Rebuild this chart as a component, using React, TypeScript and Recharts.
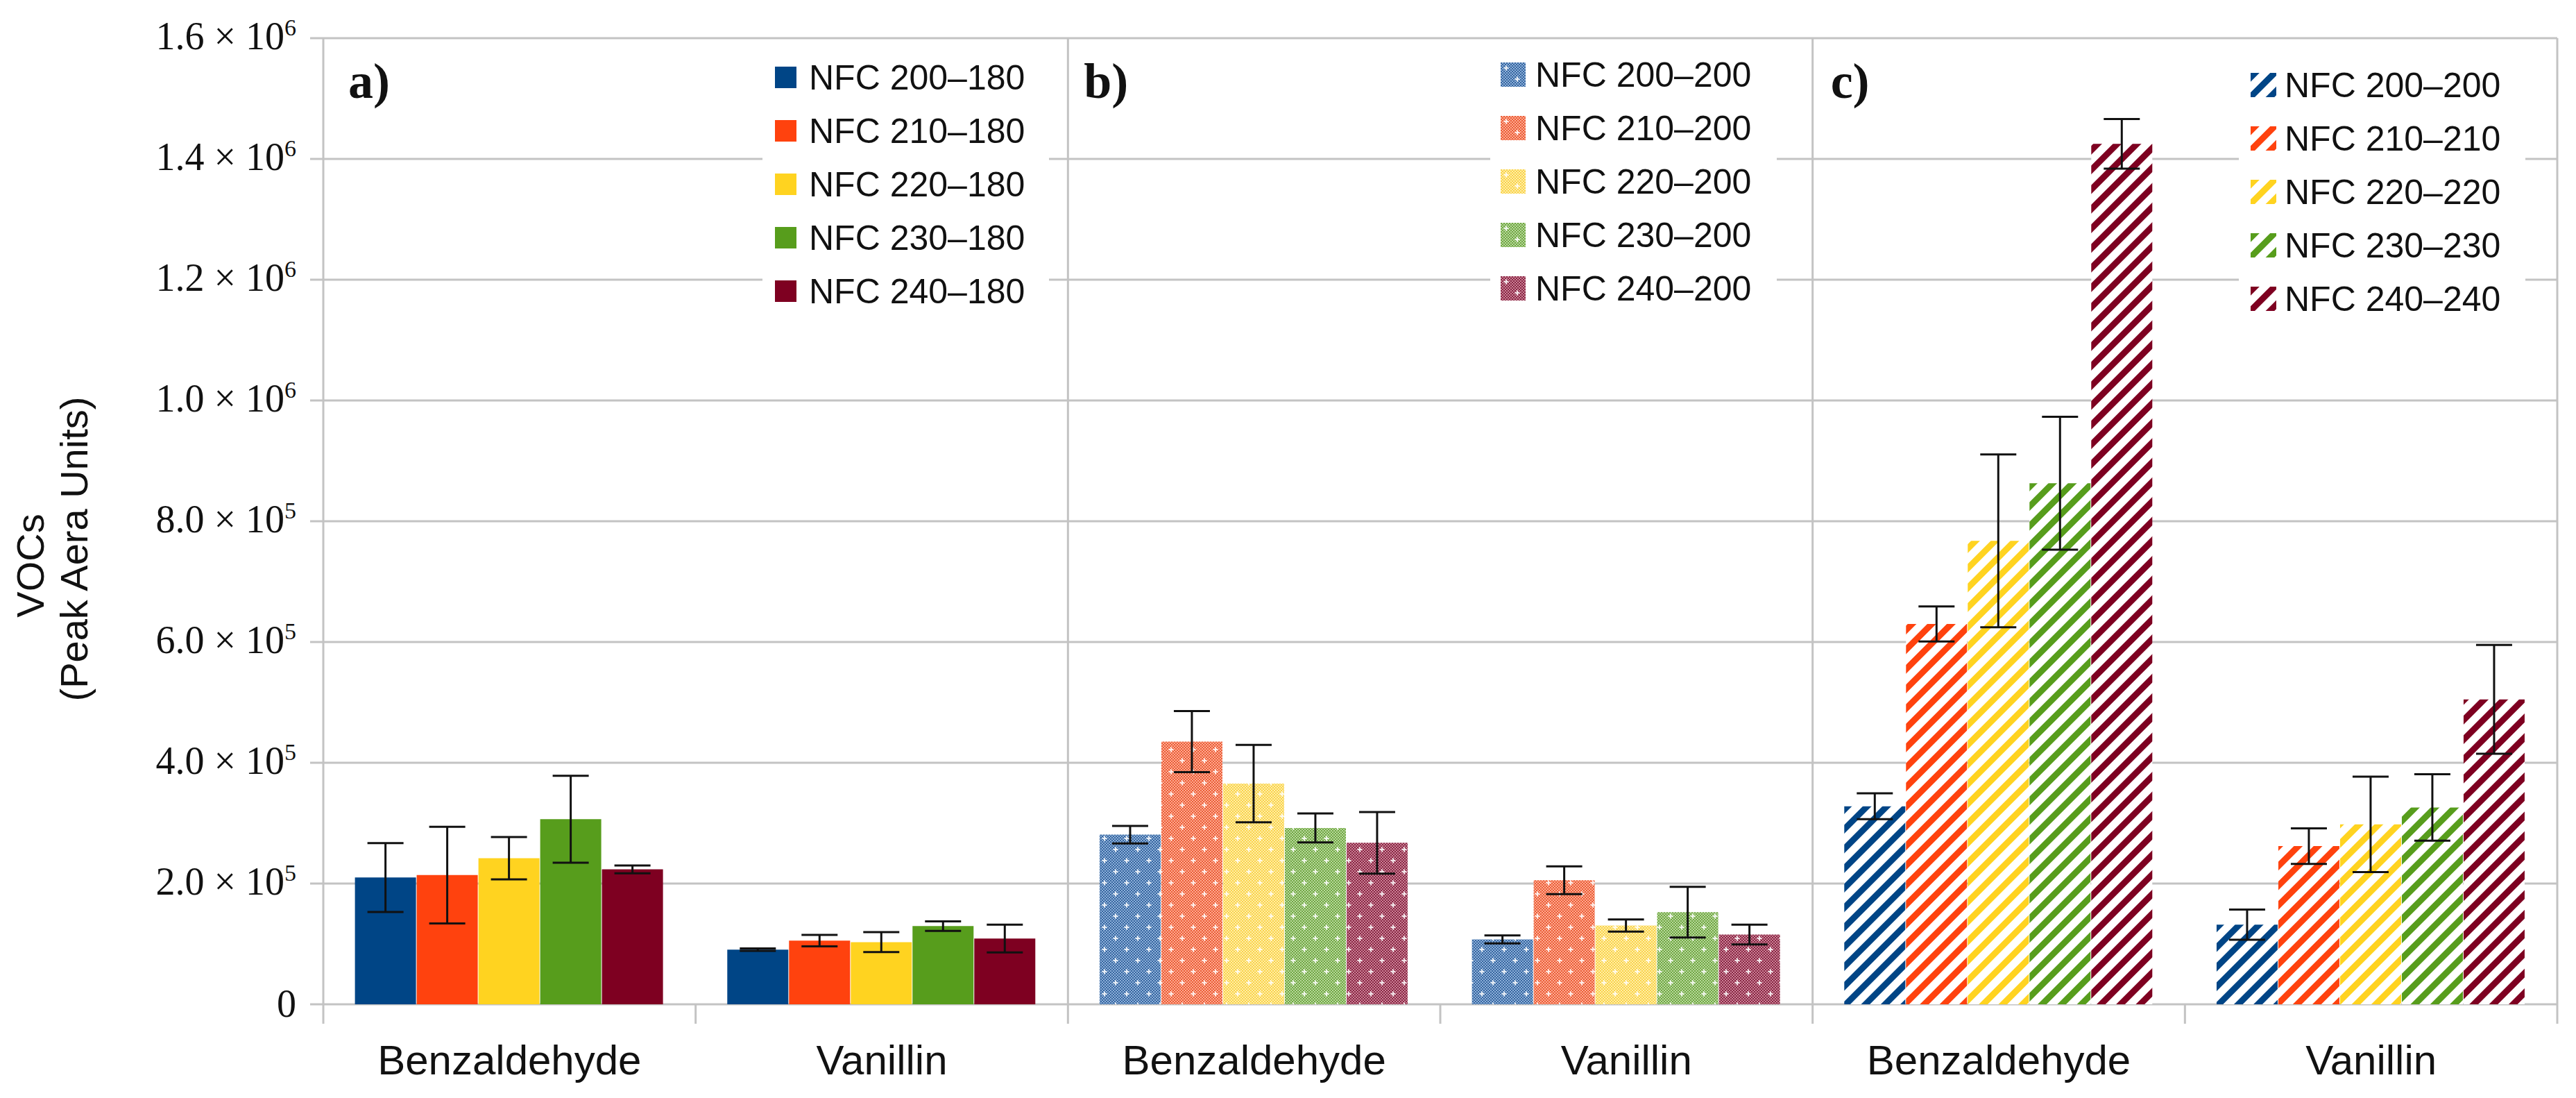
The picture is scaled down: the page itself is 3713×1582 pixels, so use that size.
import React from "react";
import {
  BarChart,
  Bar,
  XAxis,
  YAxis,
  CartesianGrid,
  ErrorBar,
  Cell,
  ReferenceLine,
  Legend,
} from "recharts";

// categories along x (three panels, two compounds each)
const categories = [
  "Benzaldehyde",
  "Vanillin",
  "Benzaldehyde",
  "Vanillin",
  "Benzaldehyde",
  "Vanillin",
];
const panelNames = ["a)", "b)", "c)"];

// legend labels per panel
const legendA = ["NFC 200–180", "NFC 210–180", "NFC 220–180", "NFC 230–180", "NFC 240–180"];
const legendB = ["NFC 200–200", "NFC 210–200", "NFC 220–200", "NFC 230–200", "NFC 240–200"];
const legendC = ["NFC 200–200", "NFC 210–210", "NFC 220–220", "NFC 230–230", "NFC 240–240"];

// bar heights (peak area units), one value per category
const nfc200 = [210000, 90500, 281000, 107500, 328000, 132000];
const nfc210 = [214000, 105500, 435000, 205500, 630000, 262000];
const nfc220 = [242000, 103000, 365500, 130500, 767500, 298000];
const nfc230 = [306500, 129500, 292000, 152500, 863000, 326000];
const nfc240 = [223500, 109000, 267500, 115500, 1425000, 505000];

// error bar half-ranges
const err200 = [57000, 2000, 14500, 6500, 21500, 25000];
const err210 = [80000, 9500, 50500, 23000, 29000, 29500];
const err220 = [35000, 16500, 64000, 10000, 143000, 79000];
const err230 = [72000, 8000, 24000, 42000, 110000, 55000];
const err240 = [6500, 23000, 51000, 16500, 41000, 90000];

const yTicks = [0, 200000, 400000, 600000, 800000, 1000000, 1200000, 1400000, 1600000];
const xTicks = [0, 0.5, 1, 1.5, 2, 2.5, 3, 3.5, 4, 4.5, 5, 5.5, 6];

const values = [nfc200, nfc210, nfc220, nfc230, nfc240];
const errors = [err200, err210, err220, err230, err240];

const data = categories.map((c, i) => {
  const row: Record<string, any> = { id: `c${i}`, name: c, pos: i + 0.5 };
  values.forEach((v, k) => {
    row[`s${k}`] = v[i];
    row[`e${k}`] = errors[k][i];
  });
  return row;
});

const W = 3713;
const H = 1582;
const PLOT_BOTTOM = 1447;
const GRID = "#c3c3c3";
const SANS = '"Liberation Sans", Arial, sans-serif';
const SERIF = '"Liberation Serif", "Times New Roman", serif';

const solid = ["#004586", "#ff420e", "#ffd320", "#579d1c", "#7e0021"];
const dotLight = ["#8eb0da", "#ffab92", "#ffeea8", "#b8d89c", "#cc8297"];
const dotDark = ["#35659e", "#e95c36", "#f9d24a", "#6fa642", "#862542"];

const fillFor = (panel: number, k: number) =>
  panel === 0 ? solid[k] : panel === 1 ? `url(#dot-${k})` : `url(#hatch-${k})`;

// checkerboard path for the dotted fill tile
const checker = (() => {
  let d = "";
  for (let r = 0; r < 16; r++)
    for (let c = 0; c < 16; c++)
      if ((r + c) % 2 === 0) d += `M${c * 2} ${r * 2}h2v2h-2z`;
  return d;
})();

function Plus({ cx, cy }: { cx: number; cy: number }) {
  return (
    <g fill="#ffffff" opacity={0.85}>
      <rect x={cx - 1} y={cy - 3.5} width={2} height={7} />
      <rect x={cx - 3.5} y={cy - 1} width={7} height={2} />
    </g>
  );
}

function YTick(props: any) {
  const { x, y, payload } = props;
  const v = payload.value as number;
  if (v === 0) {
    return (
      <text x={x} y={y} dy={18} textAnchor="end" fontFamily={SERIF} fontSize={56} fill="#111">
        0
      </text>
    );
  }
  const exp = Math.floor(Math.log10(v) + 1e-9);
  const mant = (v / Math.pow(10, exp)).toFixed(1);
  return (
    <text x={x} y={y} dy={16} textAnchor="end" fontFamily={SERIF} fontSize={56} fill="#111">
      {`${mant} × 10`}
      <tspan dy={-20} fontSize={34}>
        {exp}
      </tspan>
    </text>
  );
}

// x ticks: integer positions are category boundaries (tick marks),
// half positions are category centres (labels)
function XTick(props: any) {
  const { x, payload } = props;
  const v = payload.value as number;
  if (Number.isInteger(v)) {
    return <line x1={x} x2={x} y1={PLOT_BOTTOM} y2={PLOT_BOTTOM + 28} stroke={GRID} strokeWidth={3} />;
  }
  return (
    <text x={x} y={PLOT_BOTTOM + 101} textAnchor="middle" fontFamily={SANS} fontSize={60} fill="#111">
      {categories[Math.floor(v)]}
    </text>
  );
}

function AxisTitle(props: any) {
  const vb = props.viewBox;
  const cy = vb.y + vb.height / 2;
  return (
    <g fontFamily={SANS} fontSize={56} fill="#111">
      <text transform={`translate(${vb.x + 63}, ${cy + 64}) rotate(-90)`} textAnchor="middle">
        VOCs
      </text>
      <text transform={`translate(${vb.x + 126}, ${cy + 40}) rotate(-90)`} textAnchor="middle">
        (Peak Aera Units)
      </text>
    </g>
  );
}

const labelDx = [36, 23, 26];

function PanelLabel(props: any) {
  const { viewBox, text, dx } = props;
  return (
    <text
      x={viewBox.x + dx}
      y={viewBox.y + 86}
      fontFamily={SERIF}
      fontWeight="bold"
      fontSize={72}
      fill="#111"
    >
      {text}
    </text>
  );
}

const legendBlocks = [
  { names: legendA, panel: 0, left: 1099, top: 63, sw: 31, sh: 31, pad: 18, gap: 18 },
  { names: legendB, panel: 1, left: 2148, top: 59, sw: 36, sh: 35, pad: 15, gap: 14 },
  { names: legendC, panel: 2, left: 3227, top: 74, sw: 37, sh: 35, pad: 17, gap: 12 },
];

function Legends() {
  return (
    <div style={{ position: "relative", width: W, height: H }}>
      {legendBlocks.map((b) => (
        <div
          key={b.panel}
          style={{
            position: "absolute",
            left: b.left,
            top: b.top,
            width: 413,
            padding: `10px 0 10px ${b.pad}px`,
            boxSizing: "border-box",
            background: "#ffffff",
          }}
        >
          {b.names.map((n, k) => (
            <div key={k} style={{ display: "flex", alignItems: "center", height: 77 }}>
              <svg width={b.sw} height={b.sh} style={{ display: "block" }}>
                <rect width={b.sw} height={b.sh} fill={fillFor(b.panel, k)} />
              </svg>
              <span
                style={{
                  marginLeft: b.gap,
                  fontFamily: SANS,
                  fontSize: 50,
                  lineHeight: 1,
                  color: "#111",
                  whiteSpace: "nowrap",
                }}
              >
                {n}
              </span>
            </div>
          ))}
        </div>
      ))}
    </div>
  );
}

export default function App() {
  return (
    <div style={{ position: "absolute", left: 0, top: 0, width: W, height: H, background: "#fff" }}>
      <BarChart
        width={W}
        height={H}
        data={data}
        margin={{ top: 55, right: 27, bottom: 0, left: 0 }}
        barCategoryGap="8.5%"
        barGap={1}
      >
        <defs>
          {solid.map((c, k) => (
            <pattern
              key={`h${k}`}
              id={`hatch-${k}`}
              width={20}
              height={20}
              patternUnits="userSpaceOnUse"
              patternTransform="rotate(45)"
            >
              <rect width={20} height={20} fill="#ffffff" />
              <rect width={9} height={20} fill={c} />
            </pattern>
          ))}
          {dotLight.map((c, k) => (
            <pattern key={`d${k}`} id={`dot-${k}`} width={32} height={32} patternUnits="userSpaceOnUse">
              <rect width={32} height={32} fill={c} />
              <path d={checker} fill={dotDark[k]} />
              <Plus cx={8} cy={8} />
              <Plus cx={24} cy={24} />
            </pattern>
          ))}
        </defs>
        <CartesianGrid xAxisId="grid" vertical={false} stroke={GRID} strokeWidth={3} />
        <XAxis xAxisId="cat" dataKey="id" hide />
        <XAxis
          xAxisId="grid"
          dataKey="pos"
          type="number"
          domain={[0, 6]}
          allowDataOverflow
          ticks={xTicks}
          interval={0}
          allowDecimals
          tick={<XTick />}
          tickLine={false}
          axisLine={false}
          tickSize={0}
          tickMargin={0}
          height={135}
        />
        <YAxis
          domain={[0, 1600000]}
          ticks={yTicks}
          interval={0}
          width={466}
          tick={<YTick />}
          tickLine={{ stroke: GRID, strokeWidth: 3 }}
          tickSize={19}
          tickMargin={20}
          axisLine={false}
          label={{ content: (p: any) => <AxisTitle {...p} /> }}
        />
        {[0, 2, 4, 6].map((v) => (
          <ReferenceLine
            key={v}
            xAxisId="grid"
            x={v}
            stroke={GRID}
            strokeWidth={3}
            ifOverflow="visible"
            label={
              v < 6
                ? {
                    content: (p: any) => (
                      <PanelLabel {...p} text={panelNames[v / 2]} dx={labelDx[v / 2]} />
                    ),
                  }
                : undefined
            }
          />
        ))}
        {values.map((_, k) => (
          <Bar key={k} xAxisId="cat" dataKey={`s${k}`} isAnimationActive={false}>
            {data.map((d, i) => (
              <Cell key={d.id} fill={fillFor(Math.floor(i / 2), k)} />
            ))}
            <ErrorBar dataKey={`e${k}`} width={26} stroke="#111" strokeWidth={3} direction="y" />
          </Bar>
        ))}
        <Legend
          layout="horizontal"
          verticalAlign="middle"
          align="center"
          content={() => <Legends />}
          wrapperStyle={{ left: 0, top: 0, width: W, height: H, pointerEvents: "none" }}
        />
      </BarChart>
    </div>
  );
}
